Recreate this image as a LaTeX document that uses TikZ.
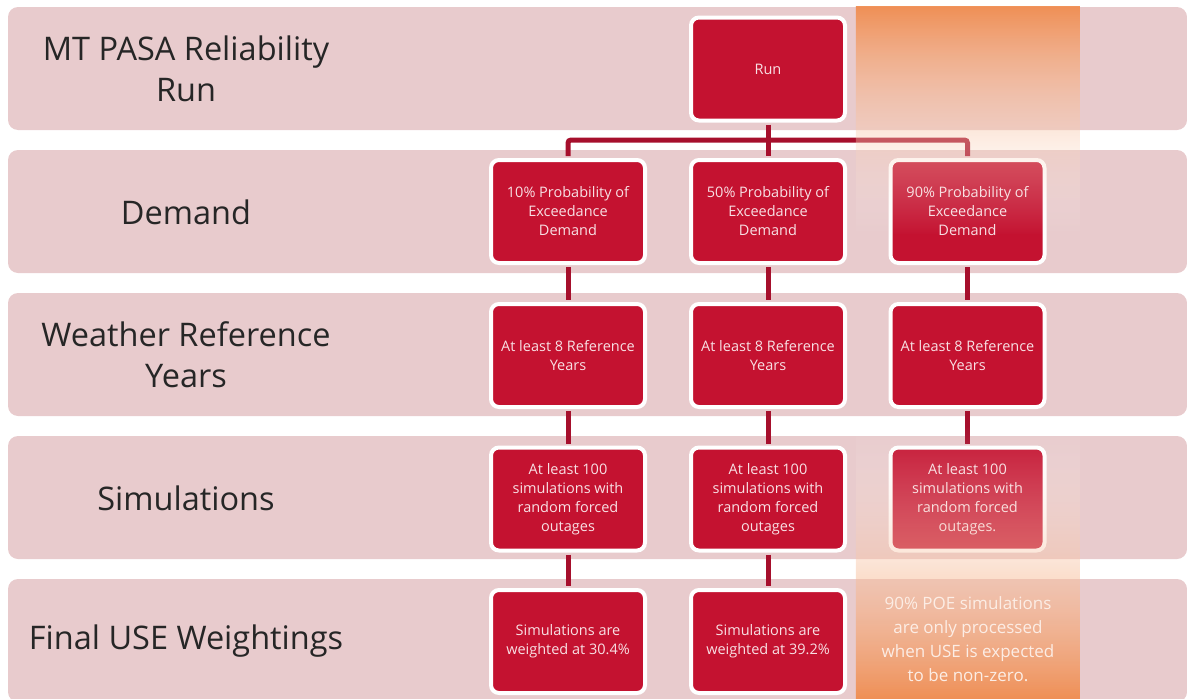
\documentclass[tikz,border=0pt]{standalone}
\usepackage{fontspec}
\setmainfont{Open Sans}
\usetikzlibrary{fadings}
\definecolor{bandpink}{HTML}{E8CBCD}
\definecolor{boxred}{HTML}{C41230}
\definecolor{linkred}{HTML}{A60F2C}
\definecolor{boxtext}{HTML}{F8E0E4}
\definecolor{labelgray}{HTML}{262626}
\definecolor{glow}{HTML}{F08A4B}
\definecolor{notetext}{HTML}{FCEDE5}
\tikzfading[name=glowtop, top color=transparent!8, bottom color=transparent!100]
\tikzfading[name=glowbottom, top color=transparent!100, bottom color=transparent!8]
\begin{document}
\begin{tikzpicture}[x=1pt,y=-1pt]
	\tikzset{
		band/.style={fill=bandpink,rounded corners=10pt},
		stepbox/.style={rectangle,rounded corners=8pt,fill=boxred,draw=white,line width=4pt,
			minimum width=154pt,minimum height=103pt,inner sep=0pt,align=center,
			text=boxtext,font=\fontsize{14.5}{19}\selectfont},
		rowlabel/.style={align=center,text=labelgray,font=\fontsize{32.5}{41}\selectfont},
		link/.style={draw=linkred,line width=5pt,shorten <=2pt,shorten >=2pt}
	}
	\useasboundingbox (0,0) rectangle (1187,699);
	\begin{scope}
		\clip (0,0) rectangle (1187,699);
		\foreach \y in {7,150,293,436,579}
			\fill[band] (8,\y) rectangle (1187,\y+123);
	\end{scope}
	% row labels
	\node[rowlabel] (lrun) at (186,69) {MT PASA Reliability\\Run};
	\node[rowlabel] (ldemand) at (186,212) {Demand};
	\node[rowlabel] (lweather) at (186,355) {Weather Reference\\Years};
	\node[rowlabel] (lsims) at (186,498) {Simulations};
	\node[rowlabel] (lfinal) at (186,641) {Final USE Weightings};
	% boxes
	\node[stepbox] (run) at (768,69) {Run};
	\node[stepbox] (d1) at (568,211.5) {10\% Probability of\\Exceedance\\Demand};
	\node[stepbox] (d2) at (768,211.5) {50\% Probability of\\Exceedance\\Demand};
	\node[stepbox] (d3) at (967.5,211.5) {90\% Probability of\\Exceedance\\Demand};
	\node[stepbox] (w1) at (568,355.5) {At least 8 Reference\\Years};
	\node[stepbox] (w2) at (768,355.5) {At least 8 Reference\\Years};
	\node[stepbox] (w3) at (967.5,355.5) {At least 8 Reference\\Years};
	\node[stepbox] (s1) at (568,499) {At least 100\\simulations with\\random forced\\outages};
	\node[stepbox] (s2) at (768,499) {At least 100\\simulations with\\random forced\\outages};
	\node[stepbox] (s3) at (967.5,499) {At least 100\\simulations with\\random forced\\outages.};
	\node[stepbox] (f1) at (568,641.5) {Simulations are\\weighted at 30.4\%};
	\node[stepbox] (f2) at (768,641.5) {Simulations are\\weighted at 39.2\%};
	% connectors
	\coordinate (split) at (768,140);
	\draw[link,shorten >=0pt] (run.south) -- (split);
	\draw[link,shorten <=0pt,rounded corners=3pt] (split) -| (d1.north);
	\draw[link,shorten <=0pt] (split) -- (d2.north);
	\draw[link,shorten <=0pt,rounded corners=3pt] (split) -| (d3.north);
	\foreach \c in {1,2,3}{
		\draw[link] (d\c.south) -- (w\c.north);
		\draw[link] (w\c.south) -- (s\c.north);
	}
	\foreach \c in {1,2}
		\draw[link] (s\c.south) -- (f\c.north);
	% highlight column
	\shade[top color=glow,bottom color=white,path fading=glowtop] (856,6) rectangle (1080,235);
	\shade[top color=white,bottom color=glow,path fading=glowbottom] (856,425) rectangle (1080,699);
	\node[align=center,text=notetext,font=\fontsize{17}{24}\selectfont] (note) at (968,639)
		{90\% POE simulations\\are only processed\\when USE is expected\\to be non-zero.};
\end{tikzpicture}
\end{document}
